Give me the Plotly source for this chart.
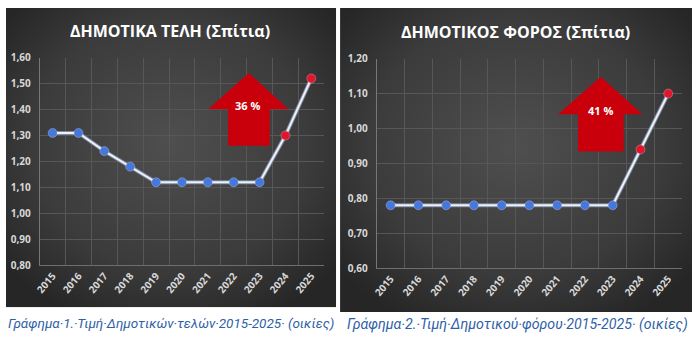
import base64
import plotly.graph_objects as go

years = ["2015", "2016", "2017", "2018", "2019", "2020", "2021", "2022", "2023", "2024", "2025"]
teli = [1.31, 1.31, 1.24, 1.18, 1.12, 1.12, 1.12, 1.12, 1.12, 1.30, 1.52]
foros = [0.78, 0.78, 0.78, 0.78, 0.78, 0.78, 0.78, 0.78, 0.78, 0.94, 1.10]
title1 = "ΔΗΜΟΤΙΚΑ ΤΕΛΗ (Σπίτια)"
title2 = "ΔΗΜΟΤΙΚΟΣ ΦΟΡΟΣ (Σπίτια)"
caption1 = "Γράφημα·1.·Τιμή·Δημοτικών·τελών·2015-2025· (οικίες)"
caption2 = "Γράφημα·2.·Τιμή·Δημοτικού·φόρου·2015-2025· (οικίες)"
arrow1 = "36 %"
arrow2 = "41 %"

W, H = 694, 343
def px(x): return x / W
def py(y): return 1 - y / H

BLUE = "#4577dc"
RED = "#e0162f"
mcol = [BLUE] * 9 + [RED] * 2

fig = go.Figure()

def bg_svg(w, h):
    svg = f'''<svg xmlns="http://www.w3.org/2000/svg" width="{w}" height="{h}" viewBox="0 0 {w} {h}">
<defs><radialGradient id="g" cx="50%" cy="45%" r="65%">
<stop offset="0%" stop-color="#4f4f4f"/><stop offset="65%" stop-color="#3b3b3b"/><stop offset="100%" stop-color="#262626"/>
</radialGradient></defs><rect width="{w}" height="{h}" fill="url(#g)"/></svg>'''
    return "data:image/svg+xml;base64," + base64.b64encode(svg.encode()).decode()

images = [
    dict(source=bg_svg(333, 313), xref="paper", yref="paper", x=px(0), y=py(0),
         sizex=px(333), sizey=313 / H, xanchor="left", yanchor="top", sizing="stretch", layer="below"),
    dict(source=bg_svg(355, 318), xref="paper", yref="paper", x=px(337), y=py(0),
         sizex=355 / W, sizey=318 / H, xanchor="left", yanchor="top", sizing="stretch", layer="below"),
]

for vals, xa, ya in [(teli, "x", "y"), (foros, "x2", "y2")]:
    fig.add_trace(go.Scatter(x=years, y=vals, xaxis=xa, yaxis=ya, mode="lines",
                             line=dict(color="#7d8aa6", width=4), hoverinfo="skip", showlegend=False))
    fig.add_trace(go.Scatter(x=years, y=vals, xaxis=xa, yaxis=ya, mode="lines+markers",
                             line=dict(color="#eef0f6", width=2),
                             marker=dict(color=mcol, size=9, line=dict(color="rgba(255,255,255,0.25)", width=1)),
                             showlegend=False))

axis_common = dict(showgrid=True, gridcolor="#575757", gridwidth=1, zeroline=False,
                   tickfont=dict(family="Open Sans", size=10, color="#d8d8d8", weight="bold"), fixedrange=True)

fig.update_layout(
    width=W, height=H, margin=dict(l=0, r=0, t=0, b=0),
    paper_bgcolor="white", plot_bgcolor="rgba(0,0,0,0)",
    separators=",.",
    images=images,
    xaxis=dict(domain=[px(34), px(321)], anchor="y", type="category", tickson="boundaries",
               range=[-0.5, 10.5], tickangle=-50, showline=True, linecolor="#6e6e6e", ticks="", **axis_common),
    yaxis=dict(domain=[py(269), py(52)], anchor="x", range=[0.8, 1.6], dtick=0.1, tickformat=".2f",
               ticks="", ticklabelstandoff=6, showline=True, linecolor="#777777", **axis_common),
    xaxis2=dict(domain=[px(374), px(682)], anchor="y2", type="category", tickson="boundaries",
                range=[-0.5, 10.5], tickangle=-50, showline=True, linecolor="#6e6e6e", ticks="", **axis_common),
    yaxis2=dict(domain=[py(272), py(53)], anchor="x2", range=[0.6, 1.2], dtick=0.1, tickformat=".2f",
                ticks="", ticklabelstandoff=6, showline=True, linecolor="#777777", **axis_common),
)

def arrow_path(tipx, tipy, hl, hr, hy, sl, sr, by):
    pts = [(tipx, tipy), (hr, hy), (sr, hy), (sr, by), (sl, by), (sl, hy), (hl, hy)]
    return "M " + " L ".join(f"{px(a):.5f},{py(b):.5f}" for a, b in pts) + " Z"

shapes = [
    dict(type="path", xref="paper", yref="paper",
         path=arrow_path(245, 68, 204, 285, 106, 224, 266, 144),
         fillcolor="#c9000b", line=dict(width=0), layer="above"),
    dict(type="path", xref="paper", yref="paper",
         path=arrow_path(600, 72, 557, 642, 111, 577, 623, 150),
         fillcolor="#c9000b", line=dict(width=0), layer="above"),
]
fig.update_layout(shapes=shapes)

ann = [
    dict(text=title1, x=px(165), y=py(24), size=16),
    dict(text=title2, x=px(514), y=py(25), size=16),
    dict(text=arrow1, x=px(244), y=py(102), size=11),
    dict(text=arrow2, x=px(600), y=py(107), size=11),
]
annotations = []
for a in ann:
    annotations.append(dict(text=f"<b>{a['text']}</b>", x=a["x"], y=a["y"], xref="paper", yref="paper",
                            showarrow=False, xanchor="center", yanchor="middle",
                            font=dict(family="Open Sans", size=a["size"], color="white")))
annotations.append(dict(text=f"<i>{caption1}</i>", x=px(166), y=py(329), xref="paper", yref="paper",
                        showarrow=False, xanchor="center", yanchor="middle",
                        font=dict(family="Roboto", size=13.5, color="#2f5fa8")))
annotations.append(dict(text=f"<i>{caption2}</i>", x=px(516), y=py(331), xref="paper", yref="paper",
                        showarrow=False, xanchor="center", yanchor="middle",
                        font=dict(family="Roboto", size=14.2, color="#2f5fa8")))
fig.update_layout(annotations=annotations)

fig.write_html("out.html")
